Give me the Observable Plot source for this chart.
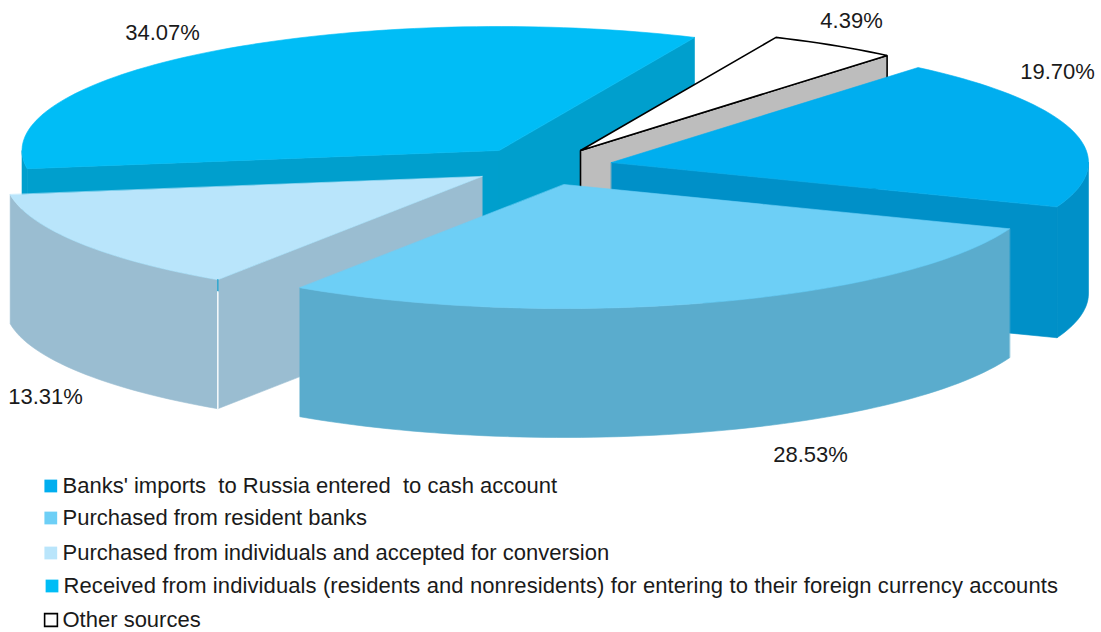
<!DOCTYPE html>
<html><head><meta charset="utf-8">
<script src="https://cdn.jsdelivr.net/npm/d3@7"></script>
<script src="https://cdn.jsdelivr.net/npm/@observablehq/plot@0.6"></script>
<style>html,body{margin:0;padding:0;background:#fff}svg{display:block}</style>
</head><body><div id="chart"></div>
<script>
// Data
const categories = ["Banks' imports  to Russia entered  to cash account","Purchased from resident banks","Purchased from individuals and accepted for conversion","Received from individuals (residents and nonresidents) for entering to their foreign currency accounts","Other sources"];
const values = [19.70,28.53,13.31,34.07,4.39];
const labels = ["19.70%","28.53%","13.31%","34.07%","4.39%"];
const topColors = ["#00aeef","#6dcff6","#b9e5fb","#00bdf6","#ffffff"];
const wallColors = ["#0090c8","#5aaccd","#9abdd1","#009fcd","#bdbdbd"];

// Layout of the exploded 3-D pie
const W = 1101, H = 632;
const rx = 477, ry = 124, startDeg = -50;
const apexX = [611,563.5,481.5,498.5,580], apexY = [162,184,176,150,150];
const depth = [131,129,129,129,129];
const labelX = [1057,810,45,162,851], labelY = [71,454,396,32,20];
const legendY = [485.5,517.5,552.5,585.5,619.5], legendSwatchX = [50.3,50.3,50.3,51.5,50.5], legendTextX = [62,62,62,63,62];
const drawOrder = [3,4,0,2,1];

const rad = d => d*Math.PI/180;
let cum = startDeg;
const slices = values.map((v,i)=>{const s=cum; cum+=v*3.6; return {i,s,e:cum,cx:apexX[i],cy:apexY[i],d:depth[i]};});
const pt = (sl,t,dz=0)=>({x:sl.cx+rx*Math.cos(rad(t)),y:sl.cy+ry*Math.sin(rad(t))+dz});
const arc = (sl,a,b,dz=0)=>{const n=Math.max(2,Math.ceil(Math.abs(b-a)/1.5));return d3.range(n+1).map(k=>pt(sl,a+(b-a)*k/n,dz));};
const centre = (sl,dz=0)=>({x:sl.cx,y:sl.cy+dz});
const shape = (pts,fill,stroke="none",sw=0)=>Plot.line(pts,{x:"x",y:"y",fill,stroke:stroke==="none"?fill:stroke,strokeWidth:stroke==="none"?0.6:sw,curve:"linear-closed",strokeLinejoin:"miter"});
const wall = (a,sl)=>[...a,...a.map(p=>({x:p.x,y:p.y+sl.d})).reverse()];

const pieMarks = [];
for (const i of drawOrder){
  const sl=slices[i], fill=wallColors[i], isOther=i===4;
  const stroke=isOther?"#000":"none", sw=isOther?1.6:0;
  // radial side faces that look towards the viewer
  const faces = {0:[sl.e],1:[],2:[sl.s],3:[sl.s,sl.e],4:[sl.e]}[i];
  for (const t of faces) pieMarks.push(shape(wall([centre(sl),pt(sl,t)],sl),fill,stroke,sw));
  // outer rim, front half only
  const a=Math.max(sl.s,0), b=Math.min(sl.e,180);
  if (b>a){pieMarks.push(shape(wall(arc(sl,a,b),sl),fill));}
  // top face
  pieMarks.push(shape([centre(sl),...arc(sl,sl.s,sl.e)],topColors[i],stroke,sw));
  if (i===2){
    const c=pt(sl,sl.s);
    pieMarks.push(Plot.line([{x:c.x,y:c.y},{x:c.x,y:c.y+12}],{x:"x",y:"y",stroke:"#2aa5cf",strokeWidth:1.4}));
    pieMarks.push(Plot.line([{x:c.x,y:c.y+12},{x:c.x,y:c.y+sl.d}],{x:"x",y:"y",stroke:"#fff",strokeWidth:1.4}));
  }
}

const font = "'Liberation Sans', Arial, sans-serif";
const labelRows = labels.map((t,i)=>({t,x:labelX[i],y:labelY[i]}));
const legendRows = categories.map((t,i)=>({t,i,y:legendY[i],sx:legendSwatchX[i],tx:legendTextX[i]}));
const chart = Plot.plot({
  width:W,height:H,margin:0,
  style:{background:"#fff",fontFamily:font},
  x:{domain:[0,W],range:[0,W],axis:null},
  y:{domain:[0,H],range:[0,H],axis:null},
  color:{type:"identity"},
  marks:[
    ...pieMarks,
    Plot.text(labelRows,{x:"x",y:"y",text:"t",fontSize:22,fill:"#1a1a1a",fontFamily:font}),
    Plot.dot(legendRows,{x:"sx",y:"y",symbol:"square",r:7.2,
      fill:d=>topColors[d.i],stroke:d=>d.i===4?"#000":topColors[d.i],strokeWidth:d=>d.i===4?1.6:0}),
    Plot.text(legendRows,{x:"tx",y:"y",text:"t",textAnchor:"start",fontSize:22,fill:"#1a1a1a",fontFamily:font})
  ]
});
d3.select(chart).selectAll("text").filter(function(){return this.textContent===categories[3];}).style("letter-spacing","0.1px");
document.getElementById("chart").appendChild(chart);
</script></body></html>
